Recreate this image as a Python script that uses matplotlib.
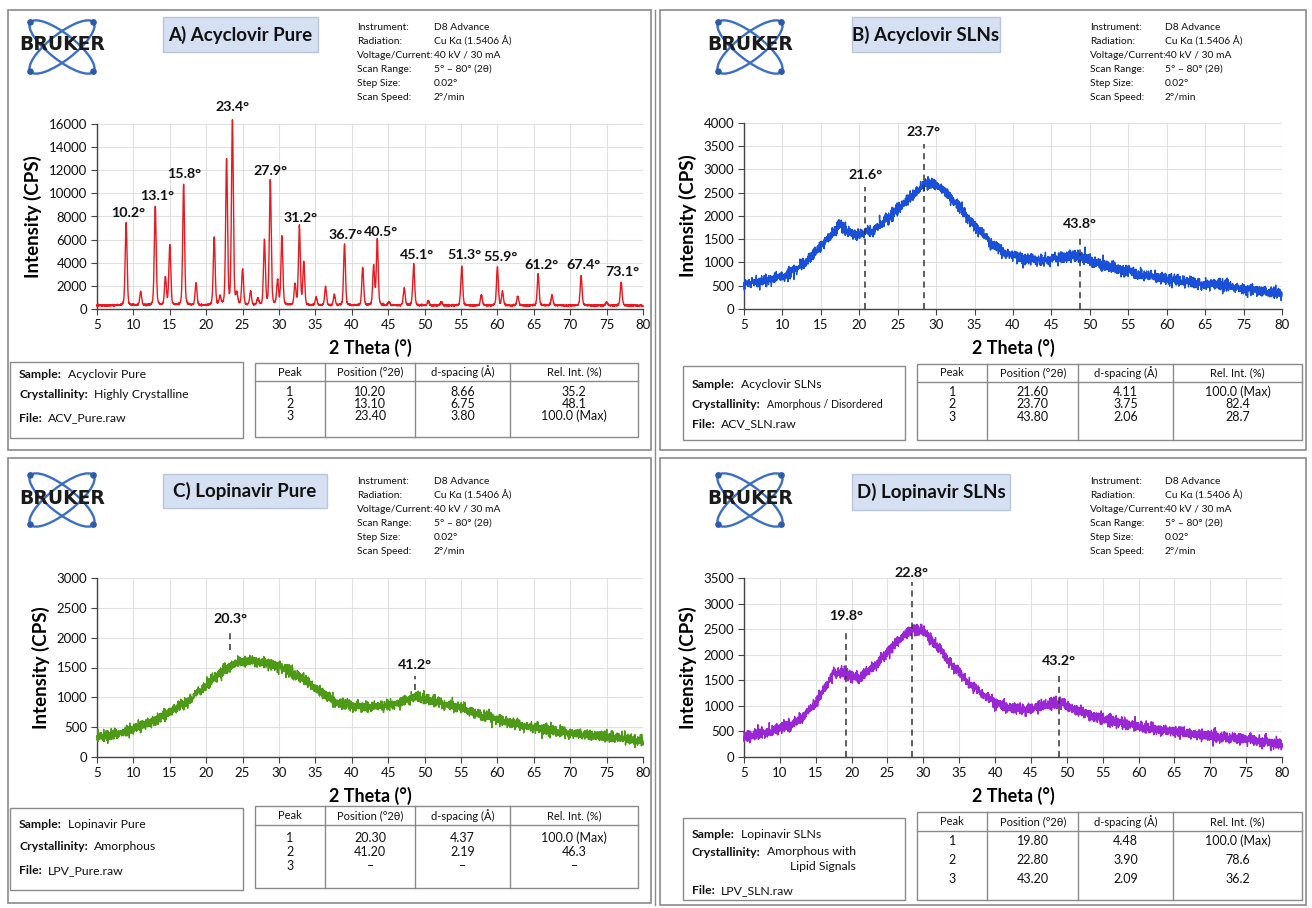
import numpy as np
import matplotlib
matplotlib.use("Agg")
import matplotlib.pyplot as plt
from matplotlib.patches import Rectangle, Ellipse, Circle

plt.rcParams['font.family'] = ['Lato', 'DejaVu Sans']

# ------------------------------------------------------------------ data
x_ticks = [5, 10, 15, 20, 25, 30, 35, 40, 45, 50, 55, 60, 65, 70, 75, 80]
x_ticks_b = [5, 10, 15, 20, 25, 30, 35, 40, 45, 50, 55, 60, 65, 70, 75]
x_labels_b = ["5", "10", "15", "20", "25", "30", "35", "40", "45", "50",
              "55", "60", "65", "75", "80"]

# A) Acyclovir pure: reflection positions / heights read from the pattern
acv_peak_pos = [9.0, 11.0, 13.0, 14.4, 15.0, 16.9, 18.6, 21.1, 21.9, 22.8, 23.6,
                24.2, 25.0, 26.1, 27.1, 28.0, 28.8, 29.8, 30.4, 32.2, 32.8, 33.4,
                35.1, 36.4, 37.6, 39.0, 41.5, 43.0, 43.5, 45.1, 47.2, 48.5, 50.5,
                52.3, 55.1, 57.8, 60.0, 60.7, 62.8, 65.6, 67.5, 71.5, 75.0, 77.0]
acv_peak_int = [7100, 1200, 8600, 2400, 5200, 10500, 1900, 5900, 700, 12600, 15900,
                900, 3100, 1200, 600, 5600, 10800, 2100, 6000, 1800, 6800, 3700,
                700, 1600, 900, 5300, 3300, 3400, 5700, 300, 1500, 3600, 400,
                300, 3400, 900, 3300, 1200, 800, 2700, 900, 2600, 300, 2000]
acv_baseline = 300
acv_labels = ["10.2°", "13.1°", "15.8°", "23.4°", "27.9°", "31.2°", "36.7°", "40.5°",
              "45.1°", "51.3°", "55.9°", "61.2°", "67.4°", "73.1°"]
acv_label_x = [9.3, 13.3, 16.9, 23.6, 28.8, 33.0, 39.2, 44.0, 48.9, 55.4, 60.4,
               66.0, 71.8, 77.2]
acv_label_y = [8300, 9800, 11700, 17500, 11900, 7900, 6400, 6700, 4700, 4700, 4500,
               3800, 3800, 3200]

# B) Acyclovir SLNs: amorphous profile
acvsln_x = [5, 7, 9, 11, 13, 15, 16.5, 17.5, 18.5, 19.5, 20.5, 21, 21.5, 23, 25,
            27, 28.5, 29.5, 31, 33, 35, 37, 39, 41, 43, 45, 47, 48.5, 50, 53, 56,
            60, 64, 68, 72, 75]
acvsln_y = [550, 580, 640, 780, 1000, 1350, 1650, 1820, 1650, 1580, 1620, 1700,
            1650, 1850, 2150, 2450, 2680, 2700, 2550, 2200, 1800, 1450, 1200, 1080,
            1050, 1080, 1120, 1150, 1050, 880, 760, 650, 560, 480, 400, 320]
acvsln_mark_x = [20.8, 28.4, 48.7]
acvsln_mark_top = [2630, 3550, 1600]
acvsln_mark_bot = [0, 0, 0]
acvsln_mark_lab_y = [2890, 3800, 1830]
acvsln_mark_txt = ["21.6°", "23.7°", "43.8°"]

# C) Lopinavir pure
lpv_x = [5, 8, 11, 14, 17, 20, 22, 24, 26, 28, 30, 32, 34, 36, 38, 40, 42, 44, 46,
         48, 49, 51, 54, 58, 62, 66, 70, 74, 78, 80]
lpv_y = [330, 400, 500, 680, 900, 1200, 1420, 1580, 1620, 1580, 1500, 1400, 1250,
         1080, 920, 860, 840, 850, 900, 980, 1000, 950, 850, 700, 560, 470, 400,
         350, 300, 260]
lpv_mark_x = [23.3, 48.7]
lpv_mark_top = [2080, 1360]
lpv_mark_bot = [1800, 1120]
lpv_mark_lab_y = [2320, 1550]
lpv_mark_txt = ["20.3°", "41.2°"]

# D) Lopinavir SLNs
lpvsln_x = [5, 8, 11, 13, 15, 16.5, 17.5, 18.5, 20, 21, 23, 25, 27, 28.5, 30, 32,
            34, 36, 38, 40, 42, 44, 46, 48, 49.5, 52, 55, 58, 62, 66, 70, 74, 78, 80]
lpvsln_y = [380, 470, 600, 750, 1050, 1400, 1650, 1650, 1580, 1550, 1750, 2050,
            2350, 2500, 2450, 2150, 1800, 1500, 1250, 1050, 980, 940, 980, 1050,
            1030, 880, 750, 650, 550, 480, 420, 360, 300, 250]
lpvsln_mark_x = [19.2, 28.4, 48.9]
lpvsln_mark_top = [2510, 3420, 1650]
lpvsln_mark_bot = [0, 0, 0]
lpvsln_mark_lab_y = [2760, 3600, 1880]
lpvsln_mark_txt = ["19.8°", "22.8°", "43.2°"]

instr_labels = ["Instrument:", "Radiation:", "Voltage/Current:", "Scan Range:",
                "Step Size:", "Scan Speed:"]
instr_values = ["D8 Advance", "Cu Kα (1.5406 Å)", "40 kV / 30 mA", "5° – 80° (2θ)",
                "0.02°", "2°/min"]

table_header = ["Peak", "Position (°2θ)", "d-spacing (Å)", "Rel. Int. (%)"]
table_a = [["1", "10.20", "8.66", "35.2"], ["2", "13.10", "6.75", "48.1"],
           ["3", "23.40", "3.80", "100.0 (Max)"]]
table_b = [["1", "21.60", "4.11", "100.0 (Max)"], ["2", "23.70", "3.75", "82.4"],
           ["3", "43.80", "2.06", "28.7"]]
table_c = [["1", "20.30", "4.37", "100.0 (Max)"], ["2", "41.20", "2.19", "46.3"],
           ["3", "–", "–", "–"]]
table_d = [["1", "19.80", "4.48", "100.0 (Max)"], ["2", "22.80", "3.90", "78.6"],
           ["3", "43.20", "2.09", "36.2"]]

titles = ["A) Acyclovir Pure", "B) Acyclovir SLNs", "C) Lopinavir Pure",
          "D) Lopinavir SLNs"]
samples = ["Acyclovir Pure", "Acyclovir SLNs", "Lopinavir Pure", "Lopinavir SLNs"]
crystallinity = ["Highly Crystalline", "Amorphous / Disordered", "Amorphous",
                 "Amorphous with\nLipid Signals"]
files = ["ACV_Pure.raw", "ACV_SLN.raw", "LPV_Pure.raw", "LPV_SLN.raw"]
y_tops = [16000, 4000, 3000, 3500]
y_steps = [2000, 500, 500, 500]
colors = ["#e8191f", "#1a4fd8", "#4c9a16", "#9a27d6"]

# ------------------------------------------------------------------ figure
W, H = 1312, 908
fig = plt.figure(figsize=(W / 100, H / 100), dpi=100)
ov = fig.add_axes([0, 0, 1, 1])
ov.set_xlim(0, W)
ov.set_ylim(H, 0)
ov.axis('off')
renderer = fig.canvas.get_renderer()

GRAY = "#8a8a8a"
rng = np.random.default_rng(3)   # detector-noise texture only


def fig_axes(x0, y0, x1, y1):
    return fig.add_axes([x0 / W, 1 - y1 / H, (x1 - x0) / W, (y1 - y0) / H])


def draw_logo(cx, cy):
    a, b = 40, 13
    for ang in (38, -38):
        ov.add_patch(Ellipse((cx, cy), 2 * a, 2 * b, angle=ang, fill=False,
                             ec="#3b6fc7", lw=1.7))
        r = np.deg2rad(ang)
        for sgn in (1, -1):
            ov.add_patch(Circle((cx + sgn * a * np.cos(r), cy + sgn * a * np.sin(r)),
                                2.6, color="#2a5bb0"))
    ov.text(cx, cy - 2, "BRUKER", ha="center", va="center", fontsize=13.5,
            fontweight="bold", family="DejaVu Sans", color="#1a1a1a")


def text_width(t):
    bb = t.get_window_extent(renderer=renderer)
    return bb.width


def draw_panel(i, L, profile_x, profile_y, marks, table_rows, xt, xtl, xmax):
    # border
    bx0, by0, bx1, by1 = L["border"]
    ov.add_patch(Rectangle((bx0, by0), bx1 - bx0, by1 - by0, fill=False, ec=GRAY, lw=1.2))
    draw_logo(*L["logo"])
    # title box
    tx0, ty0, tx1, ty1 = L["title"]
    ov.add_patch(Rectangle((tx0, ty0), tx1 - tx0, ty1 - ty0, fc="#d5e0f3", ec="#b9c6dc", lw=1))
    ov.text((tx0 + tx1) / 2, (ty0 + ty1) / 2, titles[i], ha="center", va="center",
            fontsize=13.5, fontweight="bold", color="#111111")
    # instrument info
    ix0, ix1, iy0 = L["instr"]
    for k, (lab, val) in enumerate(zip(instr_labels, instr_values)):
        ov.text(ix0, iy0 + 14 * k, lab, fontsize=7.4, va="center", color="#111111")
        ov.text(ix1, iy0 + 14 * k, val, fontsize=7.4, va="center", color="#111111")
    # info box
    fx0, fy0, fx1, fy1 = L["infobox"]
    ov.add_patch(Rectangle((fx0, fy0), fx1 - fx0, fy1 - fy0, fill=False, ec=GRAY, lw=1))
    ly = L["infolines"]
    entries = [("Sample:", samples[i], 8.8), ("Crystallinity:", crystallinity[i],
               7.6 if i == 1 else 8.8), ("File:", files[i], 8.8)]
    for k, (lab, val, vfs) in enumerate(entries):
        t = ov.text(fx0 + 9, ly[k], lab, fontsize=8.8, fontweight="bold",
                    va="center", color="#111111")
        wpx = text_width(t)
        if "\n" in val:
            ov.text(fx0 + 9 + wpx + 6, ly[k] - 7, val, fontsize=vfs, va="top",
                    ha="left", multialignment="right", color="#111111", linespacing=1.5)
        else:
            ov.text(fx0 + 9 + wpx + 6, ly[k], val, fontsize=vfs, va="center",
                    color="#111111")
    # table
    gx0, gy0, gx1, gy1 = L["table"]
    ov.add_patch(Rectangle((gx0, gy0), gx1 - gx0, gy1 - gy0, fill=False, ec=GRAY, lw=1))
    fr = [0, 0.183, 0.418, 0.666, 1.0]
    cols = [gx0 + f * (gx1 - gx0) for f in fr]
    for c in cols[1:-1]:
        ov.plot([c, c], [gy0, gy1], color=GRAY, lw=1)
    ov.plot([gx0, gx1], [L["hline"], L["hline"]], color=GRAY, lw=1)
    for c in range(4):
        cx = (cols[c] + cols[c + 1]) / 2
        ov.text(cx, (gy0 + L["hline"]) / 2, table_header[c], ha="center", va="center",
                fontsize=8.0, color="#111111")
        for r, ry in enumerate(L["rows"]):
            ov.text(cx, ry, table_rows[r][c], ha="center", va="center",
                    fontsize=9.0, color="#111111")
    # plot
    ax = fig_axes(*L["axes"])
    ax.set_zorder(2)
    ax.patch.set_alpha(0)
    ax.plot(profile_x, profile_y, color=colors[i], lw=1.0, clip_on=False, zorder=3)
    ax.set_xlim(5, xmax)
    ax.set_ylim(0, y_tops[i])
    ax.set_xticks(xt)
    ax.set_xticklabels(xtl)
    ax.set_yticks(np.arange(0, y_tops[i] + 1, y_steps[i]))
    ax.grid(True, color="#e1e1e1", lw=0.8)
    ax.set_axisbelow(True)
    for s in ("top", "right"):
        ax.spines[s].set_visible(False)
    for s in ("left", "bottom"):
        ax.spines[s].set_color("#444444")
        ax.spines[s].set_linewidth(1)
    ax.tick_params(labelsize=9.5, length=4, color="#444444", labelcolor="#111111", pad=3)
    ax.set_xlabel("2 Theta (°)", fontsize=13, fontweight="bold", labelpad=6)
    ax.set_ylabel("Intensity (CPS)", fontsize=13.5, fontweight="bold", labelpad=5)
    for (mx, mt, mb, mly, mtxt) in marks:
        if mt is not None:
            ax.plot([mx, mx], [mb, mt], color="#333333", lw=1.1,
                    ls=(0, (4, 3)), zorder=4, clip_on=False)
        ax.text(mx, mly, mtxt, ha="center", va="center", fontsize=10.3,
                fontweight="bold", color="#111111", clip_on=False, zorder=5)
    return ax


# ---- build profiles
tt = np.arange(5, 80.0001, 0.02)

# A: crystalline pattern from reflection list (pseudo-Voigt shapes)
prof_a = np.full_like(tt, float(acv_baseline))
w = 0.15
for p, h in zip(acv_peak_pos, acv_peak_int):
    g = np.exp(-0.5 * ((tt - p) / (w / 1.18)) ** 2)
    l = 1 / (1 + ((tt - p) / w) ** 2)
    prof_a += h * (0.75 * g + 0.25 * l)
prof_a += rng.normal(0, 35, tt.size)

tt_b = np.arange(5, 75.0001, 0.02)
prof_b = np.interp(tt_b, acvsln_x, acvsln_y) + rng.normal(0, 60, tt_b.size)
prof_c = np.interp(tt, lpv_x, lpv_y) + rng.normal(0, 45, tt.size)
prof_d = np.interp(tt, lpvsln_x, lpvsln_y) + rng.normal(0, 55, tt.size)

layouts = [
    dict(border=(8, 10, 651, 450), logo=(62, 47), title=(163, 17, 318, 52),
         instr=(357, 434, 27), axes=(97, 124, 643, 309),
         infobox=(10, 362, 243, 438), infolines=[375, 395, 418],
         table=(255, 363, 638, 437), hline=381, rows=[392, 404, 416]),
    dict(border=(660, 10, 1306, 450), logo=(750, 47), title=(852, 17, 1000, 52),
         instr=(1090, 1165, 27), axes=(744, 123, 1282, 309),
         infobox=(683, 366, 905, 440), infolines=[385, 404, 424],
         table=(917, 364, 1302, 440), hline=382, rows=[392, 404, 417]),
    dict(border=(8, 458, 651, 903), logo=(62, 500), title=(163, 474, 327, 508),
         instr=(357, 434, 481), axes=(97, 578, 643, 757),
         infobox=(10, 808, 243, 890), infolines=[825, 847, 871],
         table=(255, 806, 638, 888), hline=825, rows=[838, 852, 866]),
    dict(border=(660, 458, 1306, 905), logo=(750, 500), title=(852, 474, 1010, 510),
         instr=(1090, 1165, 481), axes=(744, 578, 1282, 757),
         infobox=(683, 818, 905, 900), infolines=[834, 853, 891],
         table=(917, 812, 1302, 900), hline=831, rows=[841, 860, 879]),
]

marks_a = [(x, None, None, y, t) for x, y, t in zip(acv_label_x, acv_label_y, acv_labels)]
marks_b = list(zip(acvsln_mark_x, acvsln_mark_top, acvsln_mark_bot,
                   acvsln_mark_lab_y, acvsln_mark_txt))
marks_c = list(zip(lpv_mark_x, lpv_mark_top, lpv_mark_bot, lpv_mark_lab_y, lpv_mark_txt))
marks_d = list(zip(lpvsln_mark_x, lpvsln_mark_top, lpvsln_mark_bot,
                   lpvsln_mark_lab_y, lpvsln_mark_txt))

xl = [str(v) for v in x_ticks]
draw_panel(0, layouts[0], tt, prof_a, marks_a, table_a, x_ticks, xl, 80)
draw_panel(1, layouts[1], tt_b, prof_b, marks_b, table_b, x_ticks_b, x_labels_b, 75)
draw_panel(2, layouts[2], tt, prof_c, marks_c, table_c, x_ticks, xl, 80)
draw_panel(3, layouts[3], tt, prof_d, marks_d, table_d, x_ticks, xl, 80)
ov.plot([655, 655], [10, 905], color=GRAY, lw=1)

fig.savefig("out.png", dpi=100)
